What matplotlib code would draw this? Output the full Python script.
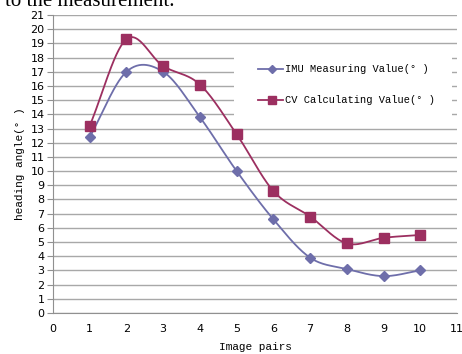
import numpy as np
import matplotlib
matplotlib.use("Agg")
import matplotlib.pyplot as plt

pairs = [1, 2, 3, 4, 5, 6, 7, 8, 9, 10]
imu = [12.4, 17.0, 17.0, 13.8, 10.0, 6.6, 3.9, 3.1, 2.6, 3.0]
cv = [13.2, 19.3, 17.4, 16.1, 12.6, 8.6, 6.8, 4.9, 5.3, 5.5]


def smooth(x, y, n=30):
    # Catmull-Rom style curve through the points, like Excel's smoothed line
    x = np.asarray(x, float)
    y = np.asarray(y, float)
    px = np.concatenate([[2 * x[0] - x[1]], x, [2 * x[-1] - x[-2]]])
    py = np.concatenate([[2 * y[0] - y[1]], y, [2 * y[-1] - y[-2]]])
    xs, ys = [], []
    t = np.linspace(0, 1, n)
    for i in range(1, len(px) - 2):
        for p, out in ((px, xs), (py, ys)):
            p0, p1, p2, p3 = p[i - 1], p[i], p[i + 1], p[i + 2]
            out.extend(0.5 * ((2 * p1) + (-p0 + p2) * t
                              + (2 * p0 - 5 * p1 + 4 * p2 - p3) * t ** 2
                              + (-p0 + 3 * p1 - 3 * p2 + p3) * t ** 3))
    return xs, ys


fig = plt.figure(figsize=(4.62, 3.54), dpi=100)
ax = fig.add_axes([53 / 462, 1 - 313 / 354, 404 / 462, 298 / 354])

c_imu = "#6E6EAA"
c_cv = "#9C2F60"

sx, sy = smooth(pairs, imu)
ax.plot(sx, sy, color=c_imu, lw=1.3, zorder=3)
ax.plot(pairs, imu, ls="none", marker="D", ms=5.5, color=c_imu, zorder=4)
sx, sy = smooth(pairs, cv)
ax.plot(sx, sy, color=c_cv, lw=1.3, zorder=3)
ax.plot(pairs, cv, ls="none", marker="s", ms=6.5, color=c_cv, zorder=4)

ax.set_xlim(0, 11)
ax.set_ylim(0, 21)
ax.set_xticks(range(0, 12))
ax.set_yticks(range(0, 22))
ax.grid(axis="y", color="#a8a8a8", lw=1)
ax.set_axisbelow(True)
for s in ["top", "right"]:
    ax.spines[s].set_visible(False)
ax.spines["left"].set_color("#909090")
ax.spines["bottom"].set_color("#909090")
ax.tick_params(axis="y", length=4, color="#909090", labelsize=8, pad=2)
ax.tick_params(axis="x", length=0, labelsize=8, pad=8)

mono = "Liberation Mono"
ax.set_xlabel("Image pairs", family=mono, fontsize=8, labelpad=6)
ax.set_ylabel("heading angle(° )", family=mono, fontsize=8, labelpad=4)

# legend on a white patch covering the grid
ax.add_patch(plt.Rectangle((4.93, 13.2), 5.94, 5.6, facecolor="white",
                           edgecolor="none", zorder=2))
for yy, col, mk, ms, lab in [(17.2, c_imu, "D", 4.5, "IMU Measuring Value(° )"),
                             (15.0, c_cv, "s", 5.5, "CV Calculating Value(° )")]:
    ax.plot([5.58, 6.27], [yy, yy], color=col, lw=1.3, zorder=5)
    ax.plot([5.95], [yy], marker=mk, ms=ms, color=col, zorder=5)
    ax.text(6.32, yy, lab, family=mono, fontsize=7.5, va="center", zorder=5)

fig.text(0.01, 0.995, "to the measurement.", family="Liberation Serif",
         fontsize=15, va="center", ha="left")

fig.savefig("out.png", dpi=100)
